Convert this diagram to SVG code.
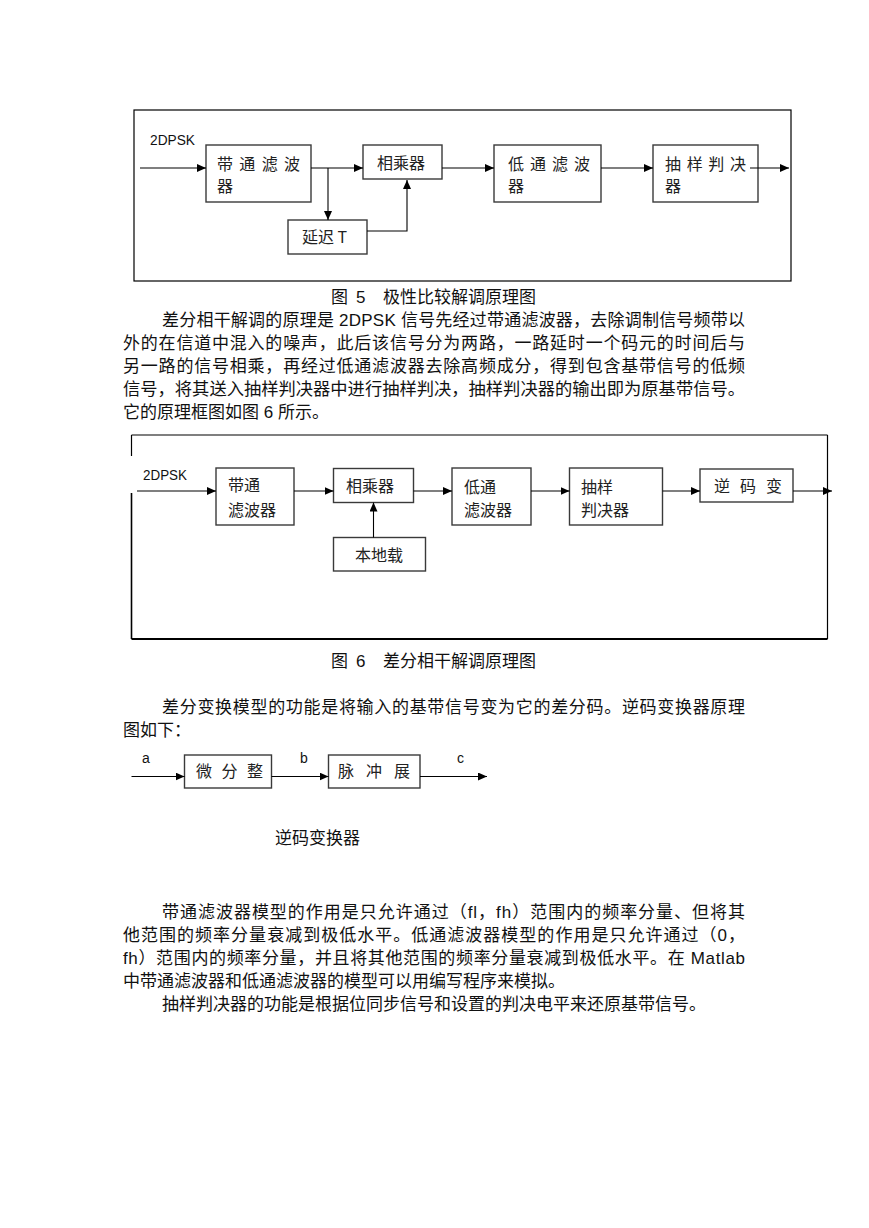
<svg xmlns="http://www.w3.org/2000/svg" width="869" height="1228" viewBox="0 0 869 1228">
<style>
.bg{fill:#ffffff}
.frame{fill:none;stroke:#000;stroke-width:1.2}
.box{fill:#fff;stroke:#3a3a3a;stroke-width:1.4}
.ln{fill:none;stroke:#000;stroke-width:1.1}
.t{font-family:"Liberation Sans","Noto Sans CJK SC",sans-serif;font-size:17px;fill:#111}
.bt{font-family:"Noto Sans CJK SC",sans-serif;font-size:16px;fill:#222}
.lat{font-family:"Liberation Sans",sans-serif;font-size:14px;fill:#111}
</style>
<defs>
<marker id="ah" markerUnits="userSpaceOnUse" markerWidth="9" markerHeight="8" refX="9" refY="4" orient="auto">
<path d="M0,0 L9,4 L0,8 z" fill="#000"/>
</marker>
</defs>
<rect class="bg" x="0" y="0" width="869" height="1228"/>

<!-- Figure 5 -->
<rect class="frame" x="134" y="110" width="657" height="171"/>
<text class="lat" x="150" y="145" textLength="45" lengthAdjust="spacingAndGlyphs">2DPSK</text>
<g id="f5-bpf">
<rect class="box" x="206" y="145" width="105" height="57"/>
<text class="bt" x="217" y="170" textLength="83">带通滤波</text>
<text class="bt" x="217" y="192">器</text>
</g>
<g id="f5-mul">
<rect class="box" x="363" y="145" width="79" height="34"/>
<text class="bt" x="377" y="169">相乘器</text>
</g>
<g id="f5-lpf">
<rect class="box" x="494" y="145" width="107" height="57"/>
<text class="bt" x="508" y="170" textLength="82">低通滤波</text>
<text class="bt" x="508" y="192">器</text>
</g>
<g id="f5-dec">
<rect class="box" x="653" y="145" width="105" height="57"/>
<text class="bt" x="665" y="170" textLength="81">抽样判决</text>
<text class="bt" x="665" y="192">器</text>
</g>
<g id="f5-delay">
<rect class="box" x="288" y="220" width="79" height="34"/>
<text class="bt" x="302" y="243">延迟 T</text>
</g>
<g id="f5-connectors">
<line class="ln" x1="140" y1="168" x2="206" y2="168" marker-end="url(#ah)"/>
<line class="ln" x1="311" y1="168" x2="363" y2="168" marker-end="url(#ah)"/>
<line class="ln" x1="442" y1="168" x2="494" y2="168" marker-end="url(#ah)"/>
<line class="ln" x1="601" y1="168" x2="653" y2="168" marker-end="url(#ah)"/>
<line class="ln" x1="750" y1="168" x2="789" y2="168" marker-end="url(#ah)"/>
<line class="ln" x1="328" y1="168" x2="328" y2="220" marker-end="url(#ah)"/>
<polyline class="ln" points="367,231 407,231 407,180" marker-end="url(#ah)"/>
</g>
<text class="t" x="331" y="303">图</text>
<text class="t" x="356" y="303">5</text>
<text class="t" x="383" y="303">极性比较解调原理图</text>

<!-- Paragraph 1 -->
<text class="t" x="162" y="326" textLength="583" lengthAdjust="spacing">差分相干解调的原理是 2DPSK 信号先经过带通滤波器，去除调制信号频带以</text>
<text class="t" x="123" y="349" textLength="622" lengthAdjust="spacing">外的在信道中混入的噪声，此后该信号分为两路，一路延时一个码元的时间后与</text>
<text class="t" x="123" y="372" textLength="622" lengthAdjust="spacing">另一路的信号相乘，再经过低通滤波器去除高频成分，得到包含基带信号的低频</text>
<text class="t" x="123" y="395" textLength="622" lengthAdjust="spacingAndGlyphs">信号，将其送入抽样判决器中进行抽样判决，抽样判决器的输出即为原基带信号。</text>
<text class="t" x="123" y="418">它的原理框图如图 6 所示。</text>

<!-- Figure 6 -->
<line class="frame" x1="131.5" y1="435" x2="827.5" y2="435"/>
<line class="frame" x1="827.5" y1="435" x2="827.5" y2="639"/>
<line class="frame" x1="131.5" y1="639" x2="827.5" y2="639" style="stroke-width:1.8"/>
<line class="frame" x1="131.5" y1="435" x2="131.5" y2="456"/>
<line class="frame" x1="131.5" y1="493" x2="131.5" y2="639" style="stroke-width:1.6"/>
<text class="lat" x="143" y="480" textLength="44" lengthAdjust="spacingAndGlyphs">2DPSK</text>
<g id="f6-bpf">
<rect class="box" x="216" y="468" width="78" height="57"/>
<text class="bt" x="228" y="491">带通</text>
<text class="bt" x="228" y="516">滤波器</text>
</g>
<g id="f6-mul">
<rect class="box" x="333.5" y="468.5" width="80" height="34"/>
<text class="bt" x="346" y="492">相乘器</text>
</g>
<g id="f6-lo">
<rect class="box" x="333.5" y="537.5" width="92" height="33.5"/>
<text class="bt" x="355" y="561">本地载</text>
</g>
<g id="f6-lpf">
<rect class="box" x="452" y="468" width="79" height="57"/>
<text class="bt" x="464" y="493">低通</text>
<text class="bt" x="464" y="516">滤波器</text>
</g>
<g id="f6-dec">
<rect class="box" x="569.5" y="468" width="93" height="57"/>
<text class="bt" x="581" y="493">抽样</text>
<text class="bt" x="581" y="516">判决器</text>
</g>
<g id="f6-inv">
<rect class="box" x="700" y="469" width="93" height="33"/>
<text class="bt" x="714" y="492" textLength="68">逆码变</text>
</g>
<g id="f6-connectors">
<line class="ln" x1="137" y1="491" x2="216" y2="491" marker-end="url(#ah)"/>
<line class="ln" x1="294" y1="491" x2="333.5" y2="491" marker-end="url(#ah)"/>
<line class="ln" x1="413.5" y1="491" x2="452" y2="491" marker-end="url(#ah)"/>
<line class="ln" x1="531" y1="491" x2="569.5" y2="491" marker-end="url(#ah)"/>
<line class="ln" x1="662.5" y1="491" x2="700" y2="491" marker-end="url(#ah)"/>
<line class="ln" x1="793" y1="491" x2="832" y2="491" marker-end="url(#ah)"/>
<line class="ln" x1="373.5" y1="537.5" x2="373.5" y2="502.5" marker-end="url(#ah)"/>
</g>
<text class="t" x="331" y="667">图</text>
<text class="t" x="356" y="667">6</text>
<text class="t" x="383" y="667">差分相干解调原理图</text>

<!-- Paragraph 2 -->
<text class="t" x="162" y="713" textLength="583" lengthAdjust="spacing">差分变换模型的功能是将输入的基带信号变为它的差分码。逆码变换器原理</text>
<text class="t" x="123" y="736">图如下：</text>

<!-- Figure 7 -->
<text class="lat" x="142" y="763">a</text>
<text class="lat" x="300" y="763">b</text>
<text class="lat" x="457" y="763">c</text>
<g id="f7-diff">
<rect class="box" x="184.5" y="755" width="87" height="33"/>
<text class="bt" x="196" y="777" textLength="67">微分整</text>
</g>
<g id="f7-pulse">
<rect class="box" x="328.5" y="755" width="91.5" height="33"/>
<text class="bt" x="338" y="777" textLength="72">脉冲展</text>
</g>
<g id="f7-connectors">
<line class="ln" x1="131.5" y1="776.5" x2="184.5" y2="776.5" marker-end="url(#ah)"/>
<line class="ln" x1="271.5" y1="776.5" x2="328.5" y2="776.5" marker-end="url(#ah)"/>
<line class="ln" x1="420" y1="776.5" x2="487" y2="776.5" marker-end="url(#ah)"/>
</g>
<text class="t" x="275" y="844">逆码变换器</text>

<!-- Paragraph 3 -->
<text class="t" x="162" y="918" textLength="583" lengthAdjust="spacing">带通滤波器模型的作用是只允许通过（fl，fh）范围内的频率分量、但将其</text>
<text class="t" x="123" y="941" textLength="622" lengthAdjust="spacing">他范围的频率分量衰减到极低水平。低通滤波器模型的作用是只允许通过（0，</text>
<text class="t" x="123" y="964" textLength="622" lengthAdjust="spacing">fh）范围内的频率分量，并且将其他范围的频率分量衰减到极低水平。在 Matlab</text>
<text class="t" x="123" y="987">中带通滤波器和低通滤波器的模型可以用编写程序来模拟。</text>
<text class="t" x="162" y="1010">抽样判决器的功能是根据位同步信号和设置的判决电平来还原基带信号。</text>
</svg>
